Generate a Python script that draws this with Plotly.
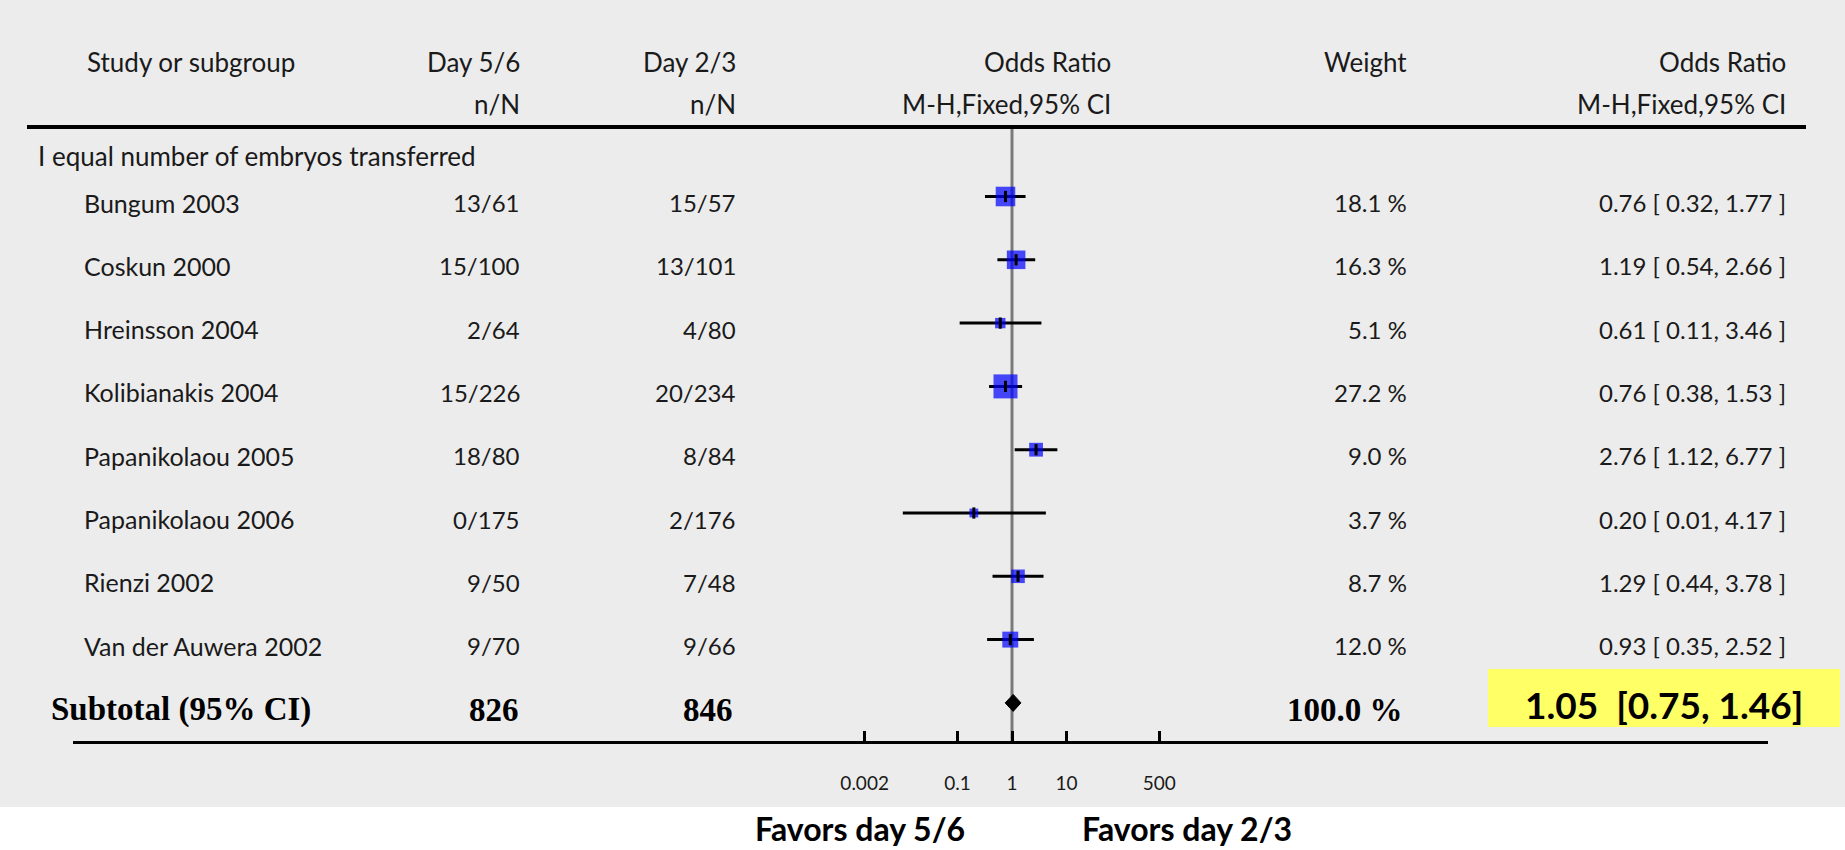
import plotly.graph_objects as go

W, H = 1845, 850

# ---- data -------------------------------------------------------------
studies = ["Bungum 2003", "Coskun 2000", "Hreinsson 2004", "Kolibianakis 2004",
           "Papanikolaou 2005", "Papanikolaou 2006", "Rienzi 2002", "Van der Auwera 2002"]
day56_events = ["13/61", "15/100", "2/64", "15/226", "18/80", "0/175", "9/50", "9/70"]
day23_events = ["15/57", "13/101", "4/80", "20/234", "8/84", "2/176", "7/48", "9/66"]
weights = [18.1, 16.3, 5.1, 27.2, 9.0, 3.7, 8.7, 12.0]
odds_ratio = [0.76, 1.19, 0.61, 0.76, 2.76, 0.20, 1.29, 0.93]
ci_low = [0.32, 0.54, 0.11, 0.38, 1.12, 0.01, 0.44, 0.35]
ci_high = [1.77, 2.66, 3.46, 1.53, 6.77, 4.17, 3.78, 2.52]

subgroup_label = "I equal number of embryos transferred"
subtotal_label = "Subtotal (95% CI)"
subtotal_totals = [826, 846]
subtotal_weight = 100.0
subtotal_or = 1.05
subtotal_ci = [0.75, 1.46]

tick_values = [0.002, 0.1, 1, 10, 500]
tick_labels = ["0.002", "0.1", "1", "10", "500"]

favors_left = "Favors day 5/6"
favors_right = "Favors day 2/3"

# ---- styling ----------------------------------------------------------
GS = "Lato, sans-serif"
SERIF = "Liberation Serif, Times New Roman, serif"
CAL = "Lato, Carlito, Calibri, sans-serif"
INK = "#1a1a1a"
BG = "#ececec"
HEAD = 26     # header text
NAMETXT = 25  # study names
ROWTXT = 24   # numeric columns

# pixel geometry of the forest panel
X_LEFT, X_RIGHT = 73, 1768          # extent of the bottom axis line
X_ONE, PX_DEC = 1012, 54.6          # position of OR = 1 and pixels per decade
Y_TOP, Y_AXIS = 127, 741            # header rule and axis line
ROW0, ROW_STEP = 196.5, 63.3        # first study row and row pitch

n = len(studies)
sub_row = n


def px(x):
    return x / W


def py(y):
    return 1 - y / H


xrange_log = [(X_LEFT - X_ONE) / PX_DEC, (X_RIGHT - X_ONE) / PX_DEC]
yrange = [(Y_AXIS - ROW0) / ROW_STEP, (Y_TOP - ROW0) / ROW_STEP]

fig = go.Figure()

# reference line at OR = 1
fig.add_trace(go.Scatter(x=[1, 1], y=yrange, mode="lines",
                         line=dict(color="#7a7a7a", width=3),
                         hoverinfo="skip", showlegend=False))

# confidence intervals
for i in range(n):
    fig.add_trace(go.Scatter(x=[ci_low[i], ci_high[i]], y=[i, i], mode="lines",
                             line=dict(color="black", width=3),
                             hoverinfo="skip", showlegend=False))

# weight squares
fig.add_trace(go.Scatter(
    x=odds_ratio, y=list(range(n)), mode="markers",
    marker=dict(symbol="square", color="#0000ff",
                size=[4.6 * w ** 0.5 for w in weights], line=dict(width=0)),
    hoverinfo="skip", showlegend=False, cliponaxis=False))

# point estimate ticks
fig.add_trace(go.Scatter(
    x=odds_ratio, y=list(range(n)), mode="markers",
    marker=dict(symbol="line-ns", size=8, line=dict(color="black", width=3)),
    hoverinfo="skip", showlegend=False, cliponaxis=False))

# pooled estimate diamond
half_h = 8.5 / ROW_STEP
fig.add_trace(go.Scatter(
    x=[subtotal_ci[0], subtotal_or, subtotal_ci[1], subtotal_or, subtotal_ci[0]],
    y=[sub_row, sub_row - half_h, sub_row, sub_row + half_h, sub_row],
    mode="lines", fill="toself", fillcolor="black",
    line=dict(color="black", width=1),
    hoverinfo="skip", showlegend=False))

shapes = [
    # gray panel behind the table
    dict(type="rect", xref="paper", yref="paper", x0=0, x1=1, y0=py(807), y1=1,
         fillcolor=BG, line=dict(width=0), layer="below"),
    # header rule
    dict(type="line", xref="paper", yref="paper", x0=px(27), x1=px(1806),
         y0=py(Y_TOP), y1=py(Y_TOP), line=dict(color="black", width=4)),
    # highlight behind the pooled estimate
    dict(type="rect", xref="paper", yref="paper", x0=px(1488), x1=px(1840),
         y0=py(727), y1=py(669), fillcolor="#ffff66", line=dict(width=0),
         layer="below"),
]

ann = []


def label(text, x, y, anchor, size=ROWTXT, family=GS, yref="paper", yshift=0,
          color=INK):
    ann.append(dict(text=text, x=px(x), y=y, xref="paper", yref=yref,
                    xanchor=anchor, yanchor="middle", showarrow=False,
                    yshift=yshift, font=dict(family=family, size=size, color=color)))


# column headers
label("Study or subgroup", 85, py(62), "left", size=HEAD)
label("Day 5/6", 522, py(62), "right", size=HEAD)
label("n/N", 522, py(104), "right", size=HEAD)
label("Day 2/3", 738, py(62), "right", size=HEAD)
label("n/N", 738, py(104), "right", size=HEAD)
label("Odds Ratio", 1113, py(62), "right", size=HEAD)
label("M-H,Fixed,95% CI", 1113, py(104), "right", size=HEAD)
label("Weight", 1409, py(62), "right", size=HEAD)
label("Odds Ratio", 1788, py(62), "right", size=HEAD)
label("M-H,Fixed,95% CI", 1788, py(104), "right", size=HEAD)
label(subgroup_label, 36, py(156), "left", size=HEAD)

# study rows
for i in range(n):
    label(studies[i], 82, i, "left", size=NAMETXT, yref="y", yshift=-6)
    label(day56_events[i], 522, i, "right", yref="y", yshift=-6)
    label(day23_events[i], 738, i, "right", yref="y", yshift=-6)
    label(f"{weights[i]:.1f} %", 1409, i, "right", yref="y", yshift=-6)
    label(f"{odds_ratio[i]:.2f} [ {ci_low[i]:.2f}, {ci_high[i]:.2f} ]", 1788, i,
          "right", yref="y", yshift=-6)

# subtotal row
SUB = dict(family=SERIF, size=33, yref="y", yshift=-7, color="black")
label(f"<b>{subtotal_label}</b>", 49, sub_row, "left", **SUB)
label(f"<b>{subtotal_totals[0]}</b>", 521, sub_row, "right", **SUB)
label(f"<b>{subtotal_totals[1]}</b>", 735, sub_row, "right", **SUB)
label(f"<b>{subtotal_weight:.1f} %</b>", 1405, sub_row, "right", **SUB)
label(f"<b>{subtotal_or:.2f}\u00a0 [{subtotal_ci[0]:.2f}, {subtotal_ci[1]:.2f}]</b>",
      1664, sub_row, "center", family=CAL, size=37, yref="y", yshift=-2,
      color="black")

# favours labels
label(f"<b>{favors_left}</b>", 860, py(828), "center", family=CAL, size=32,
      color="black")
label(f"<b>{favors_right}</b>", 1187, py(828), "center", family=CAL, size=32,
      color="black")

fig.update_layout(
    width=W, height=H, margin=dict(l=0, r=0, t=0, b=0),
    paper_bgcolor="white", plot_bgcolor="rgba(0,0,0,0)",
    showlegend=False, shapes=shapes, annotations=ann,
    xaxis=dict(type="log", domain=[px(X_LEFT), px(X_RIGHT)], range=xrange_log,
               showgrid=False, zeroline=False, showline=True, linecolor="black",
               linewidth=3, ticks="inside", ticklen=10, tickwidth=3,
               tickcolor="black", tickvals=tick_values, ticktext=tick_labels,
               tickfont=dict(family=GS, size=19, color=INK),
               ticklabelstandoff=23, fixedrange=True),
    yaxis=dict(domain=[py(Y_AXIS), py(Y_TOP)], range=yrange, visible=False,
               fixedrange=True),
)

fig.write_html("out.html")
